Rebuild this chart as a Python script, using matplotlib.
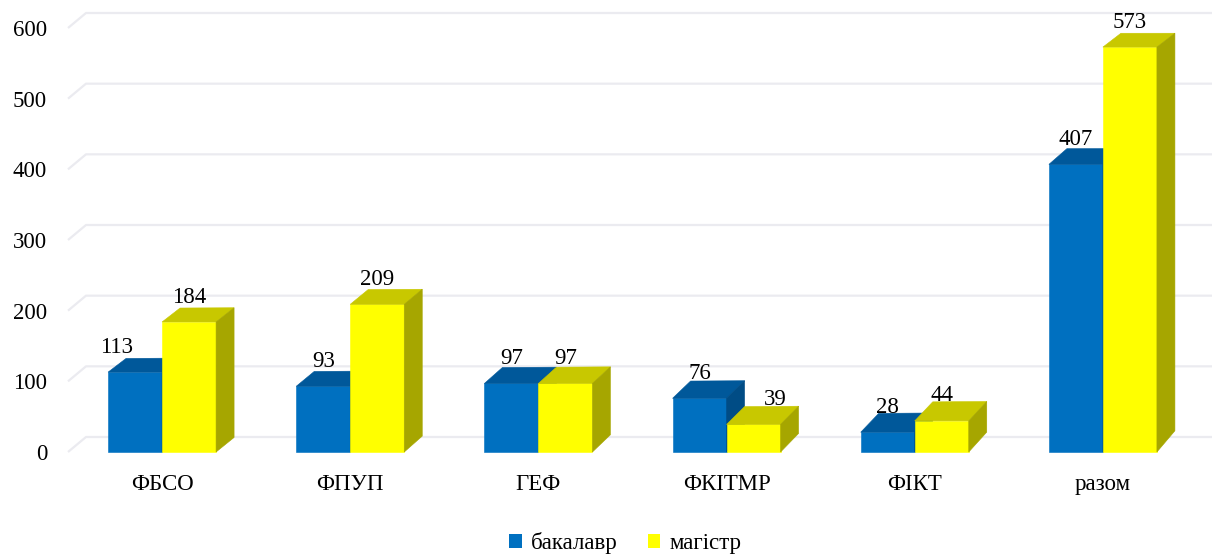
import numpy as np
import matplotlib
matplotlib.use("Agg")
import matplotlib.pyplot as plt
from matplotlib.patches import Polygon, Patch

plt.rcParams['font.family'] = ['Liberation Serif', 'DejaVu Serif']
plt.rcParams['font.size'] = 16.5

faculties = ['ФБСО', 'ФПУП', 'ГЕФ', 'ФКІТМР', 'ФІКТ', 'разом']
bachelor = [113, 93, 97, 76, 28, 407]
master = [184, 209, 97, 39, 44, 573]
series_names = ['бакалавр', 'магістр']

# front / top / side shades of each series
shades = {
    'бакалавр': ('#0070C0', '#00589A', '#004C85'),
    'магістр': ('#FFFF00', '#C8C800', '#A6A600'),
}

W, H, DPI = 12.12, 5.54, 100
fig = plt.figure(figsize=(W, H), dpi=DPI)
ax = fig.add_axes([68 / 1212, 102 / 554, 1129 / 1212, 424 / 554])
ymax = 600
ax.set_xlim(-0.5, len(faculties) - 0.5)
ax.set_ylim(0, ymax)

# pixel -> data unit conversion for the depth offsets
px_x = len(faculties) / 1129
px_y = ymax / 424


def depth(x, y):
    """Oblique depth offset (data units) with a slight perspective."""
    fx = (x + 0.5) / len(faculties)
    fy = y / ymax
    return 18 * px_x, (13.5 + 8 * fx * (1 - fy)) * px_y


# gridlines: short slanted piece on the left wall, then along the back wall
gdx, gdy = 18 * px_x, 15 * px_y
x_left, x_right = -0.5, -0.5 + (1212 - 68) * px_x
for v in range(0, ymax + 1, 100):
    ax.plot([x_left, x_left + gdx, x_right], [v, v + gdy, v + gdy],
            color='#EBEBF0', lw=1.6, zorder=0, clip_on=False,
            solid_capstyle='butt')

bar_w = 54 * px_x


def draw_bar(x0, value, colors):
    front, top, side = colors
    x1 = x0 + bar_w
    # front face
    ax.add_patch(Polygon([(x0, 0), (x1, 0), (x1, value), (x0, value)],
                         closed=True, facecolor=front, edgecolor=front,
                         lw=0.4, zorder=2, clip_on=False))
    # top face
    d0 = depth(x0, value)
    d1 = depth(x1, value)
    ax.add_patch(Polygon([(x0, value), (x1, value),
                          (x1 + d1[0], value + d1[1]),
                          (x0 + d0[0], value + d0[1])],
                         closed=True, facecolor=top, edgecolor=top,
                         lw=0.4, zorder=2, clip_on=False))
    # right side face
    db = depth(x1, 0)
    ax.add_patch(Polygon([(x1, 0), (x1, value),
                          (x1 + d1[0], value + d1[1]),
                          (x1 + db[0], db[1])],
                         closed=True, facecolor=side, edgecolor=side,
                         lw=0.4, zorder=2, clip_on=False))


# nudges for labels that would otherwise crowd their neighbours (px)
label_shift = {(0, 0): -19, (3, 1): 22}

for i, (b, m) in enumerate(zip(bachelor, master)):
    for k, (val, name) in enumerate([(b, 'бакалавр'), (m, 'магістр')]):
        x0 = i - bar_w + k * bar_w
        draw_bar(x0, val, shades[name])
        cx = x0 + bar_w / 2 + label_shift.get((i, k), 0) * px_x
        ax.annotate(str(val), (cx, val), xytext=(0, 14),
                    textcoords='offset points', ha='center', va='baseline',
                    color='black', zorder=3, annotation_clip=False)

ax.set_xticks(range(len(faculties)))
ax.set_xticklabels(faculties)
ax.set_yticks(range(0, ymax + 1, 100))
ax.tick_params(axis='both', length=0)
ax.tick_params(axis='y', pad=15)
ax.tick_params(axis='x', pad=16)
for s in ax.spines.values():
    s.set_visible(False)
ax.set_facecolor('none')

handles = [Patch(facecolor=shades[n][0], edgecolor='none', label=n)
           for n in series_names]
fig.legend(handles=handles, loc='lower center', bbox_to_anchor=(0.516, -0.038),
           ncol=2, frameon=False, handlelength=0.55, handleheight=0.55,
           handletextpad=0.4, columnspacing=1.3)

fig.savefig('out.png', dpi=DPI, facecolor='white')
